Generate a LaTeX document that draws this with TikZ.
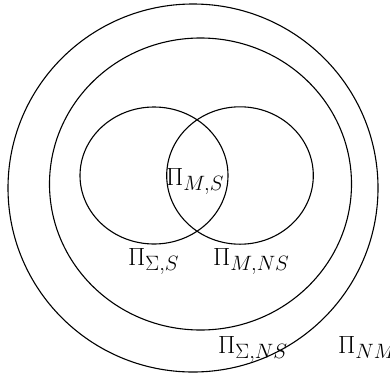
\documentclass[tikz,border=0pt]{standalone}
\begin{document}
\begin{tikzpicture}[x=1pt,y=-1pt,
  ring/.style={draw, line width=1.1pt},
  lbl/.style={font=\fontsize{28}{32}\selectfont, inner sep=0pt, anchor=base west}]
\useasboundingbox (0,0) rectangle (390,386);
\draw[ring] (193,188) ellipse [x radius=185pt, y radius=184pt];
\draw[ring] (200.5,184) ellipse [x radius=151pt, y radius=146pt];
\draw[ring] (154,175.5) ellipse [x radius=74pt, y radius=68.5pt];
\draw[ring] (240,175.5) ellipse [x radius=73.3pt, y radius=68.7pt];
\node[lbl] (ms) at (166,185) {$\Pi_{M,S}$};
\node[lbl] (sigs) at (128,265) {$\Pi_{\Sigma,S}$};
\node[lbl] (mns) at (213,265) {$\Pi_{M,NS}$};
\node[lbl] (signs) at (218,353) {$\Pi_{\Sigma,NS}$};
\node[lbl] (nm) at (338,353) {$\Pi_{NM}$};
\end{tikzpicture}
\end{document}
